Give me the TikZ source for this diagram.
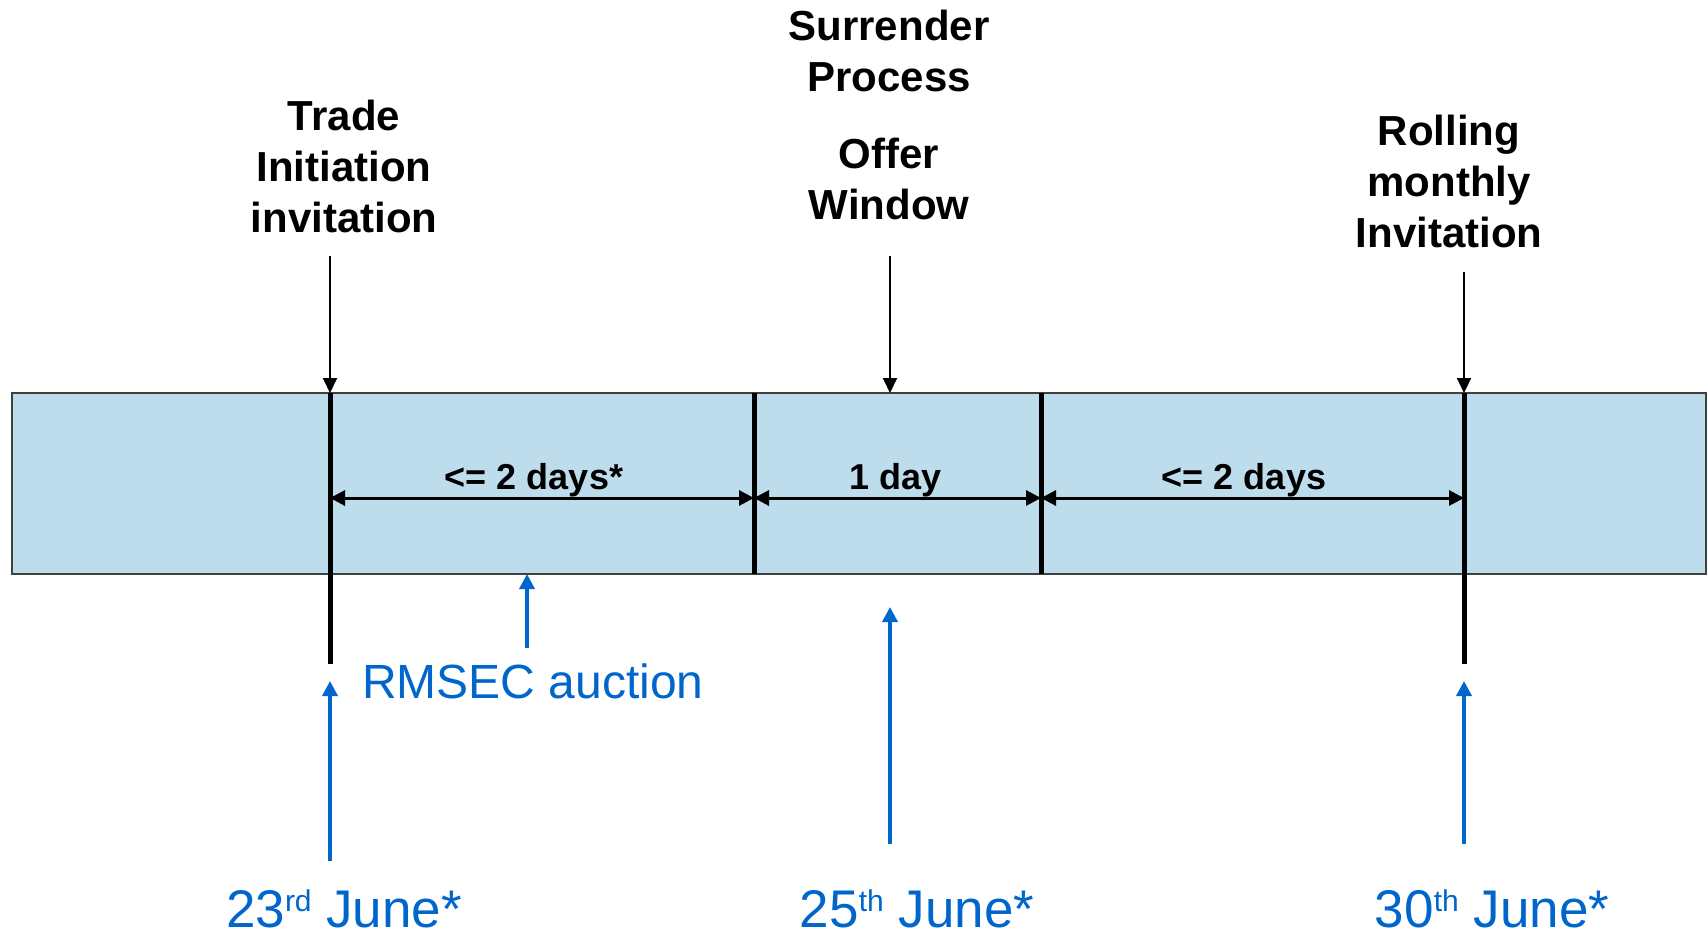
\documentclass[tikz,border=0pt]{standalone}
\usepackage{fontspec}
\setmainfont{Liberation Sans}
\usetikzlibrary{arrows.meta}
\definecolor{bandblue}{RGB}{189,220,236}
\definecolor{dateblue}{RGB}{0,102,204}
\newcommand{\dsup}[1]{\raisebox{16pt}{\fontsize{30}{30}\selectfont #1}}

\begin{document}
\begin{tikzpicture}[x=1pt,y=-1pt,
    band/.style={fill=bandblue,draw=black!75,line width=1.5pt},
    tick/.style={line width=5pt},
    pointer/.style={line width=2pt,-{Triangle[length=15pt,width=14pt]}},
    span/.style={line width=3pt,{Triangle[length=15pt,width=15pt]}-{Triangle[length=15pt,width=15pt]}},
    bluepointer/.style={dateblue,line width=3.5pt,-{Triangle[length=15pt,width=15pt]}},
    heading/.style={font=\bfseries\fontsize{42}{51}\selectfont,align=center,inner sep=0pt,anchor=base},
    spanlabel/.style={font=\bfseries\fontsize{36}{40}\selectfont,inner sep=0pt,anchor=base},
    bluelabel/.style={dateblue,font=\fontsize{48}{56}\selectfont,inner sep=0pt,anchor=base west},
    datelabel/.style={dateblue,font=\fontsize{53}{60}\selectfont,inner sep=0pt,anchor=base}]
    \useasboundingbox (0,0) rectangle (1708,933);
    \def\ax{330}; \def\bx{754}; \def\cx{1041}; \def\dx{1464}; \def\ox{890};
    \def\ya{393}; \def\yb{574}; \def\ym{498}; \def\yt{664};

    \draw[band] (12,\ya) rectangle (1706,\yb);

    \coordinate (At) at (\ax,\ya); \coordinate (Ab) at (\ax,\yt);
    \coordinate (Bt) at (\bx,\ya); \coordinate (Bb) at (\bx,\yb);
    \coordinate (Ct) at (\cx,\ya); \coordinate (Cb) at (\cx,\yb);
    \coordinate (Dt) at (\dx,\ya); \coordinate (Db) at (\dx,\yt);
    \coordinate (Ot) at (\ox,\ya);

    \coordinate (A) at (\ax,\ym); \coordinate (B) at (\bx,\ym);
    \coordinate (C) at (\cx,\ym); \coordinate (D) at (\dx,\ym);

    \draw[tick] (At) -- (Ab); \draw[tick] (Bt) -- (Bb);
    \draw[tick] (Ct) -- (Cb); \draw[tick] (Dt) -- (Db);

    % spans inside the band
    \draw[span] (A) -- (B); \draw[span] (B) -- (C); \draw[span] (C) -- (D);
    \node[spanlabel] (s1) at (534,489) {<= 2 days*};
    \node[spanlabel] (s2) at (896,489) {1 day};
    \node[spanlabel] (s3) at (1244,489) {<= 2 days};

    % headings (base = last line)
    \node[heading] (trade) at (344,233) {Trade\\Initiation\\invitation};
    \node[heading] (surr) at (889,92) {Surrender\\Process};
    \node[heading] (offer) at (889,220) {Offer\\Window};
    \node[heading] (roll) at (1449,248) {Rolling\\monthly\\Invitation};

    \coordinate (tradeP) at (\ax,256); \coordinate (offerP) at (\ox,256);
    \coordinate (rollP) at (\dx,272);
    \draw[pointer] (tradeP) -- (At); \draw[pointer] (offerP) -- (Ot);
    \draw[pointer] (rollP) -- (Dt);

    % blue labels
    \node[bluelabel] (rmsec) at (362,698) {RMSEC auction};
    \node[datelabel] (d1) at (344,927) {23\dsup{rd} June*};
    \node[datelabel] (d2) at (917,927) {25\dsup{th} June*};
    \node[datelabel] (d3) at (1492,927) {30\dsup{th} June*};

    \coordinate (rmsecP) at (527,648); \coordinate (rmsecT) at (527,\yb);
    \coordinate (d1P) at (\ax,861); \coordinate (d1T) at (\ax,681);
    \coordinate (d2P) at (\ox,844); \coordinate (d2T) at (\ox,607);
    \coordinate (d3P) at (\dx,844); \coordinate (d3T) at (\dx,681);
    \draw[bluepointer] (rmsecP) -- (rmsecT); \draw[bluepointer] (d1P) -- (d1T);
    \draw[bluepointer] (d2P) -- (d2T); \draw[bluepointer] (d3P) -- (d3T);
  \end{tikzpicture}
\end{document}
